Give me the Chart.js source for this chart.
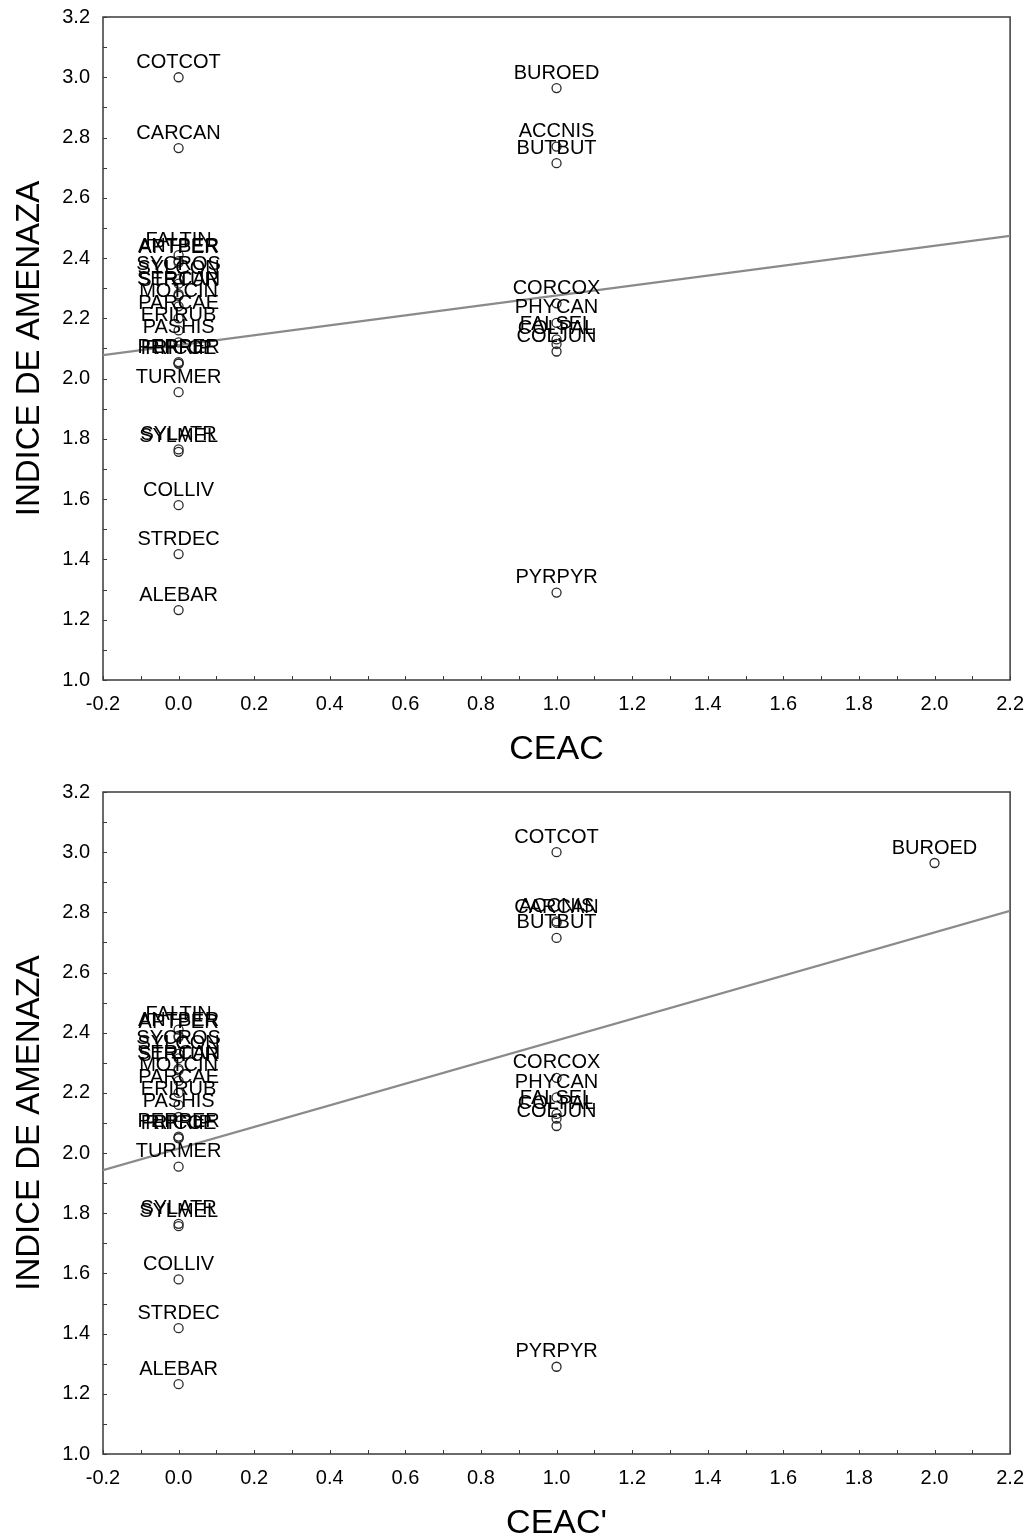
<!DOCTYPE html>
<html>
<head>
<meta charset="utf-8">
<script src="https://cdn.jsdelivr.net/npm/chart.js@4.4.1/dist/chart.umd.min.js"></script>
<style>
  html, body { margin: 0; padding: 0; background: #fff; overflow: hidden; }
  body { position: relative; width: 1031px; height: 1539px; }
  .panel { position: absolute; left: 0; width: 1036px; }
  #top { top: -8px; height: 778px; }
  #bottom { top: 767px; height: 777px; }
</style>
</head>
<body>
<div class="panel" id="top"><canvas id="chartTop"></canvas></div>
<div class="panel" id="bottom"><canvas id="chartBottom"></canvas></div>
<script>
// Species codes with their threat index and both CEAC scores
const species = [
  'COTCOT', 'CARCAN', 'BUROED', 'ACCNIS', 'BUTBUT',
  'FALTIN', 'ANTBER', 'APTPER', 'SYCROS', 'SYLCON', 'SERCAN', 'STRTUR',
  'MOTCIN', 'PARCAE', 'ERIRUB', 'PASHIS', 'PERPER', 'FRICOE', 'RIPRIP',
  'TURMER', 'SYLATR', 'SYLMEL', 'COLLIV', 'STRDEC', 'ALEBAR',
  'CORCOX', 'PHYCAN', 'FALSEL', 'COLPAL', 'COLJUN', 'PYRPYR'
];
const indice = [
  3.00, 2.765, 2.964, 2.77, 2.715,
  2.41, 2.39, 2.385, 2.33, 2.315, 2.28, 2.275,
  2.24, 2.20, 2.16, 2.12, 2.055, 2.05, 2.05,
  1.955, 1.765, 1.757, 1.58, 1.418, 1.232,
  2.25, 2.185, 2.13, 2.115, 2.09, 1.29
];
const ceac = [
  0, 0, 1, 1, 1,
  0, 0, 0, 0, 0, 0, 0,
  0, 0, 0, 0, 0, 0, 0,
  0, 0, 0, 0, 0, 0,
  1, 1, 1, 1, 1, 1
];
const ceacPrime = [
  1, 1, 2, 1, 1,
  0, 0, 0, 0, 0, 0, 0,
  0, 0, 0, 0, 0, 0, 0,
  0, 0, 0, 0, 0, 0,
  1, 1, 1, 1, 1, 1
];
// Least-squares fit lines: [top panel, bottom panel]
const fitIntercept = [2.111, 2.015];
const fitSlope = [0.165, 0.359];
const xTitles = ['CEAC', "CEAC'"];

const FONT = "'Liberation Sans', Arial, sans-serif";

// Box around the plot plus small inward ticks every 0.1
const framePlugin = {
  id: 'frame',
  beforeDatasetsDraw(chart) {
    const { ctx, chartArea: a, scales } = chart;
    ctx.save();
    ctx.strokeStyle = '#3a3a3a';
    ctx.lineWidth = 1.5;
    ctx.strokeRect(a.left, a.top, a.right - a.left, a.bottom - a.top);
    ctx.lineWidth = 1;
    ctx.beginPath();
    for (let v = scales.x.min; v <= scales.x.max + 1e-9; v += 0.1) {
      const px = Math.round(scales.x.getPixelForValue(v)) + 0.5;
      ctx.moveTo(px, a.bottom);
      ctx.lineTo(px, a.bottom - 4);
    }
    for (let v = scales.y.min; v <= scales.y.max + 1e-9; v += 0.1) {
      const py = Math.round(scales.y.getPixelForValue(v)) + 0.5;
      ctx.moveTo(a.left, py);
      ctx.lineTo(a.left + 4, py);
    }
    ctx.stroke();
    ctx.restore();
  }
};

// Species code written above each point
const labelPlugin = {
  id: 'pointLabels',
  afterDatasetsDraw(chart) {
    const { ctx } = chart;
    const meta = chart.getDatasetMeta(1);
    ctx.save();
    ctx.font = '20px ' + FONT;
    ctx.fillStyle = '#000';
    ctx.textAlign = 'center';
    ctx.textBaseline = 'middle';
    meta.data.forEach((pt, i) => {
      ctx.fillText(species[i], pt.x, pt.y - 15);
    });
    ctx.restore();
  }
};

function makeChart(canvasId, xs, k, plotBottom, canvasH) {
  const points = species.map((s, i) => ({ x: xs[i], y: indice[i] }));
  const fit = [-0.2, 2.2].map(x => ({ x: x, y: fitIntercept[k] + fitSlope[k] * x }));

  new Chart(document.getElementById(canvasId), {
    type: 'scatter',
    data: {
      datasets: [{
        type: 'line',
        data: fit,
        borderColor: '#8a8a8a',
        borderWidth: 2.2,
        pointRadius: 0,
        fill: false
      }, {
        data: points,
        pointStyle: 'circle',
        pointRadius: 4.5,
        borderWidth: 1.3,
        borderColor: '#2a2a2a',
        backgroundColor: 'rgba(255,255,255,0)'
      }]
    },
    options: {
      responsive: true,
      maintainAspectRatio: false,
      animation: false,
      layout: {
        padding: { top: 0, right: 0, left: 0, bottom: 0 }
      },
      plugins: {
        legend: { display: false },
        tooltip: { enabled: false }
      },
      scales: {
        x: {
          type: 'linear',
          min: -0.2,
          max: 2.2,
          grid: { display: false, drawTicks: false },
          border: { display: false },
          ticks: {
            stepSize: 0.2,
            padding: 12,
            color: '#000',
            font: { family: FONT, size: 20 },
            callback: v => v.toFixed(1)
          },
          title: {
            display: true,
            text: xTitles[k],
            color: '#000',
            font: { family: FONT, size: 34 },
            padding: { top: 0, bottom: 0 }
          },
          afterFit: s => { s.height = canvasH - plotBottom; }
        },
        y: {
          min: 1.0,
          max: 3.2,
          grid: { display: false, drawTicks: false },
          border: { display: false },
          ticks: {
            stepSize: 0.2,
            padding: 13,
            color: '#000',
            font: { family: FONT, size: 20 },
            callback: v => v.toFixed(1)
          },
          title: {
            display: true,
            text: 'INDICE DE AMENAZA',
            color: '#000',
            font: { family: FONT, size: 33 },
            padding: { top: 10, bottom: 0 }
          },
          afterFit: s => { s.width = 103; }
        }
      }
    },
    plugins: [framePlugin, labelPlugin]
  });
}

document.addEventListener('DOMContentLoaded', function() {
  makeChart('chartTop', ceac, 0, 688, 778);
  makeChart('chartBottom', ceacPrime, 1, 687, 777);
});
</script>
</body>
</html>
